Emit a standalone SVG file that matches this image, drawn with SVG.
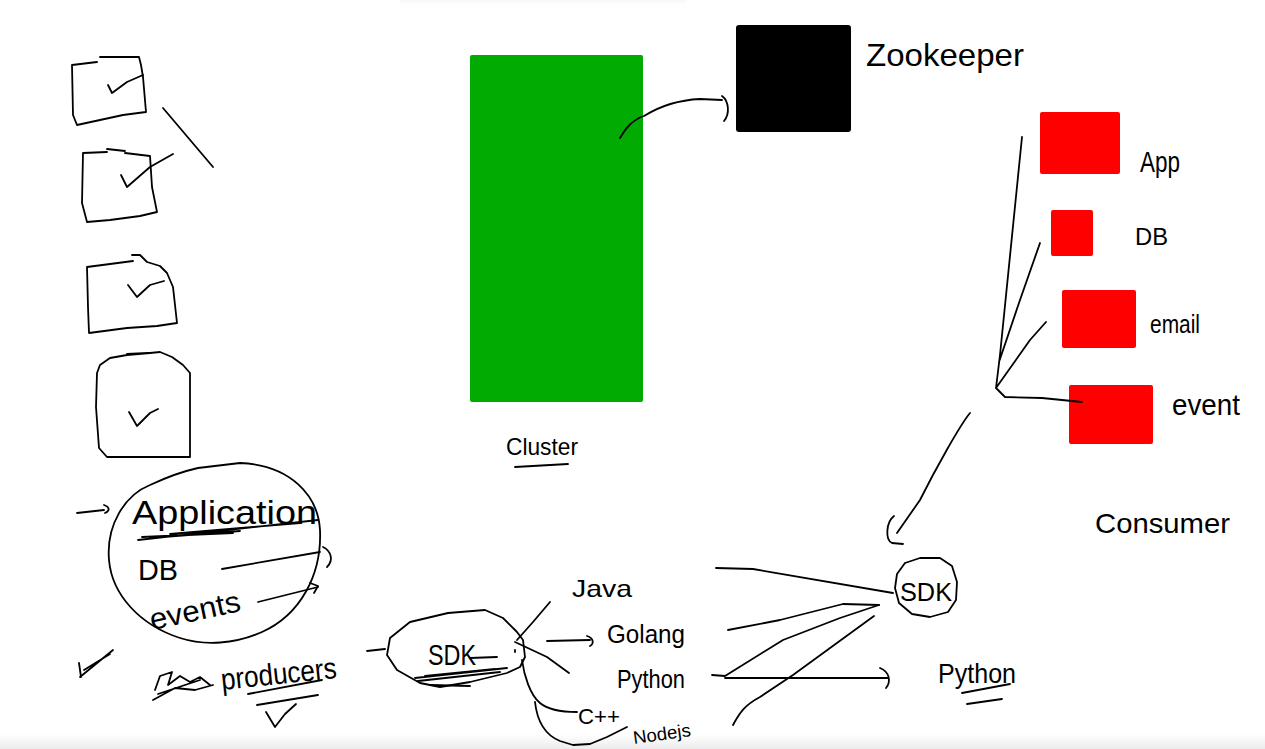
<svg xmlns="http://www.w3.org/2000/svg" width="1265" height="749" viewBox="0 0 1265 749">
<defs>
<style>
.s{fill:none;stroke:#000;stroke-width:1.8;stroke-linecap:round;stroke-linejoin:round}
.t{font-family:"Liberation Sans","DejaVu Sans",sans-serif;fill:#000}
.red{fill:#ff0000}
</style>
<linearGradient id="bot" x1="0" y1="0" x2="0" y2="1">
<stop offset="0" stop-color="#ffffff"/>
<stop offset="1" stop-color="#ececec"/>
</linearGradient>
<linearGradient id="top" x1="0" y1="0" x2="0" y2="1">
<stop offset="0" stop-color="#f7f7f7"/>
<stop offset="1" stop-color="#ffffff"/>
</linearGradient>
</defs>
<rect width="1265" height="749" fill="#fff"/>
<rect x="400" y="0" width="285" height="5" fill="url(#top)"/>
<rect x="0" y="734" width="1265" height="15" fill="url(#bot)"/>

<g id="checkboxes">
<path class="s" d="M72,65 L97,62 M100,57 L139,57 L141,65 L143,77 L146,112 L123,115 L77,125 L73,115 L72,65"/>
<path class="s" d="M108,85 L112,93 L127,82 L143,75"/>
<path class="s" d="M163,108 L213,167"/>
<path class="s" d="M83,153 L107,152 M107,149 L125,151 M125,153 L150,156 L152,187 L157,212 L140,216 L110,220 L87,222 L82,203 L83,153"/>
<path class="s" d="M121,175 L127,187 L150,167 L173,154"/>
<path class="s" d="M87,267 L133,261 M132,255 L140,255 L147,262 L160,266 L167,273 L173,287 L177,323 L157,326 L127,328 L89,333 L88,307 L87,267"/>
<path class="s" d="M128,285 L137,297 L150,285 L164,281"/>
<path class="s" d="M100,365 L110,358 L127,355 L150,353 L160,352 L172,357 L183,365 L190,373 L190,457 L107,457 L99,448 L96,407 L97,373 L100,365 M127,354 L148,353"/>
<path class="s" d="M129,412 L137,426 L150,413 L158,409"/>
</g>

<g id="cluster">
<rect x="470" y="55" width="173" height="347" rx="2" fill="#02ab02"/>
<text class="t" x="506" y="455" font-size="24" textLength="72" lengthAdjust="spacingAndGlyphs">Cluster</text>
<path class="s" d="M515,467 L568,464"/>
</g>

<g id="zookeeper">
<rect x="736" y="25" width="115" height="107" rx="3" fill="#000"/>
<text class="t" x="866" y="66" font-size="32" textLength="158" lengthAdjust="spacingAndGlyphs">Zookeeper</text>
</g>

<g id="consumers">
<rect class="red" x="1040" y="112" width="80" height="62" rx="2"/>
<text class="t" x="1140" y="172" font-size="30" textLength="40" lengthAdjust="spacingAndGlyphs">App</text>
<rect class="red" x="1051" y="210" width="42" height="46" rx="2"/>
<text class="t" x="1135" y="245" font-size="24" textLength="33" lengthAdjust="spacingAndGlyphs">DB</text>
<rect class="red" x="1062" y="290" width="74" height="58" rx="2"/>
<text class="t" x="1150" y="333" font-size="26" textLength="50" lengthAdjust="spacingAndGlyphs">email</text>
<rect class="red" x="1069" y="385" width="84" height="59" rx="2"/>
<text class="t" x="1172" y="415" font-size="30" textLength="68" lengthAdjust="spacingAndGlyphs">event</text>
<text class="t" x="1095" y="533" font-size="28" textLength="135" lengthAdjust="spacingAndGlyphs">Consumer</text>
</g>

<g id="application">
<path class="s" d="M198,468 L240,463 C290,465 318,495 320,530 C322,575 300,615 262,632 C235,644 205,646 180,638 C140,625 112,595 109,560 C106,525 125,495 150,485 C165,478 180,472 198,468"/>
<text class="t" x="132" y="524" font-size="34" textLength="185" lengthAdjust="spacingAndGlyphs">Application</text>
<path class="s" d="M138,540 L318,520 M142,537 L233,533 M170,534 L300,523 M150,538 L240,531"/>
<text class="t" x="138" y="580" font-size="30" textLength="40" lengthAdjust="spacingAndGlyphs">DB</text>
<text class="t" x="152" y="630" font-size="30" textLength="92" lengthAdjust="spacingAndGlyphs" transform="rotate(-12 152 630)">events</text>
</g>

<g id="producers">
<path class="s" d="M80,677 L113,650 M84,670 L110,654 M79,663 L81,677"/>
<path class="s" d="M155,690 L160,676 L172,672 L168,685 L180,676 L190,682 L200,677 L210,685 M153,700 L175,688 L195,690 L213,685 M158,694 L200,680"/>
<text class="t" x="222" y="690" font-size="30" textLength="116" lengthAdjust="spacingAndGlyphs" transform="rotate(-6 222 690)">producers</text>
<path class="s" d="M248,694 L322,680 M257,705 L318,695"/>
<path class="s" d="M266,712 L275,727 L285,714 L296,704"/>
</g>

<g id="sdk-left">
<path class="s" d="M390,638 L410,622 L448,613 L485,610 L503,618 L517,632 L523,640 L525,657 L520,667 L507,673 L470,682 L440,687 L420,683 L397,670 L387,655 L390,638"/>
<text class="t" x="428" y="665" font-size="30" textLength="48" lengthAdjust="spacingAndGlyphs">SDK</text>
<path class="s" d="M470,658 L497,657 M415,678 L507,668 M418,681 L500,672 M425,676 L495,669 M430,685 L470,686"/>
</g>

<g id="languages">
<text class="t" x="572" y="597" font-size="24" textLength="60" lengthAdjust="spacingAndGlyphs">Java</text>
<text class="t" x="607" y="643" font-size="26" textLength="78" lengthAdjust="spacingAndGlyphs">Golang</text>
<text class="t" x="617" y="688" font-size="26" textLength="68" lengthAdjust="spacingAndGlyphs">Python</text>
<text class="t" x="578" y="724" font-size="22" textLength="42" lengthAdjust="spacingAndGlyphs">C++</text>
<text class="t" x="634" y="744" font-size="18" textLength="58" lengthAdjust="spacingAndGlyphs" transform="rotate(-8 634 744)">Nodejs</text>
</g>

<g id="sdk-right">
<path class="s" d="M905,563 L920,558 L940,558 L952,566 L957,582 L956,600 L948,612 L930,617 L912,614 L899,603 L895,588 L897,574 L905,563"/>
<text class="t" x="900" y="601" font-size="26" textLength="52" lengthAdjust="spacingAndGlyphs">SDK</text>
</g>

<g id="python-out">
<text class="t" x="938" y="683" font-size="28" textLength="78" lengthAdjust="spacingAndGlyphs">Python</text>
<path class="s" d="M962,693 L1010,684 M967,704 L1002,699"/>
</g>

<g id="connectors">
<path class="s" d="M620,138 C626,128 632,120 644,116 C660,106 680,100 700,99 L722,100"/>
<path class="s" d="M722,96 C729,101 730,114 724,121"/>
<path class="s" d="M1022,137 L1000,355 L996,388 M1040,243 L1020,300 L999,362 M1046,322 L1030,340 L996,388 L1005,397 L1042,398 L1082,402"/>
<path class="s" d="M970,413 C960,425 935,470 920,500 L897,533"/>
<path class="s" d="M894,516 C886,522 885,540 892,543 L903,544"/>
<path class="s" d="M716,568 L753,569 L893,593"/>
<path class="s" d="M728,630 L780,620 L843,604 L879,605"/>
<path class="s" d="M712,675 L725,676 L783,640 L840,618 L879,605"/>
<path class="s" d="M733,725 C740,712 745,705 760,697 L793,675 L874,616"/>
<path class="s" d="M725,678 L888,678"/>
<path class="s" d="M880,668 C890,672 891,682 886,688"/>
<path class="s" d="M77,513 L104,510"/>
<path class="s" d="M104,505 C110,507 110,511 105,513"/>
<path class="s" d="M222,569 L320,552"/>
<path class="s" d="M323,547 C331,551 334,560 327,567"/>
<path class="s" d="M258,602 L318,587"/>
<path class="s" d="M310,583 L318,586 L314,593"/>
<path class="s" d="M367,651 L385,649"/>
<path class="s" d="M517,640 L533,622 L550,602"/>
<path class="s" d="M515,642 L547,657 L569,673"/>
<path class="s" d="M547,641 L590,640"/>
<path class="s" d="M587,636 C594,638 594,644 590,646"/>
<path class="s" d="M515,650 L515,652"/>
<path class="s" d="M522,660 C524,675 530,695 540,703 C547,709 560,712 577,712"/>
<path class="s" d="M535,702 C537,720 545,735 560,741 L573,745 L590,744 L607,737 L627,727"/>
</g>
</svg>
